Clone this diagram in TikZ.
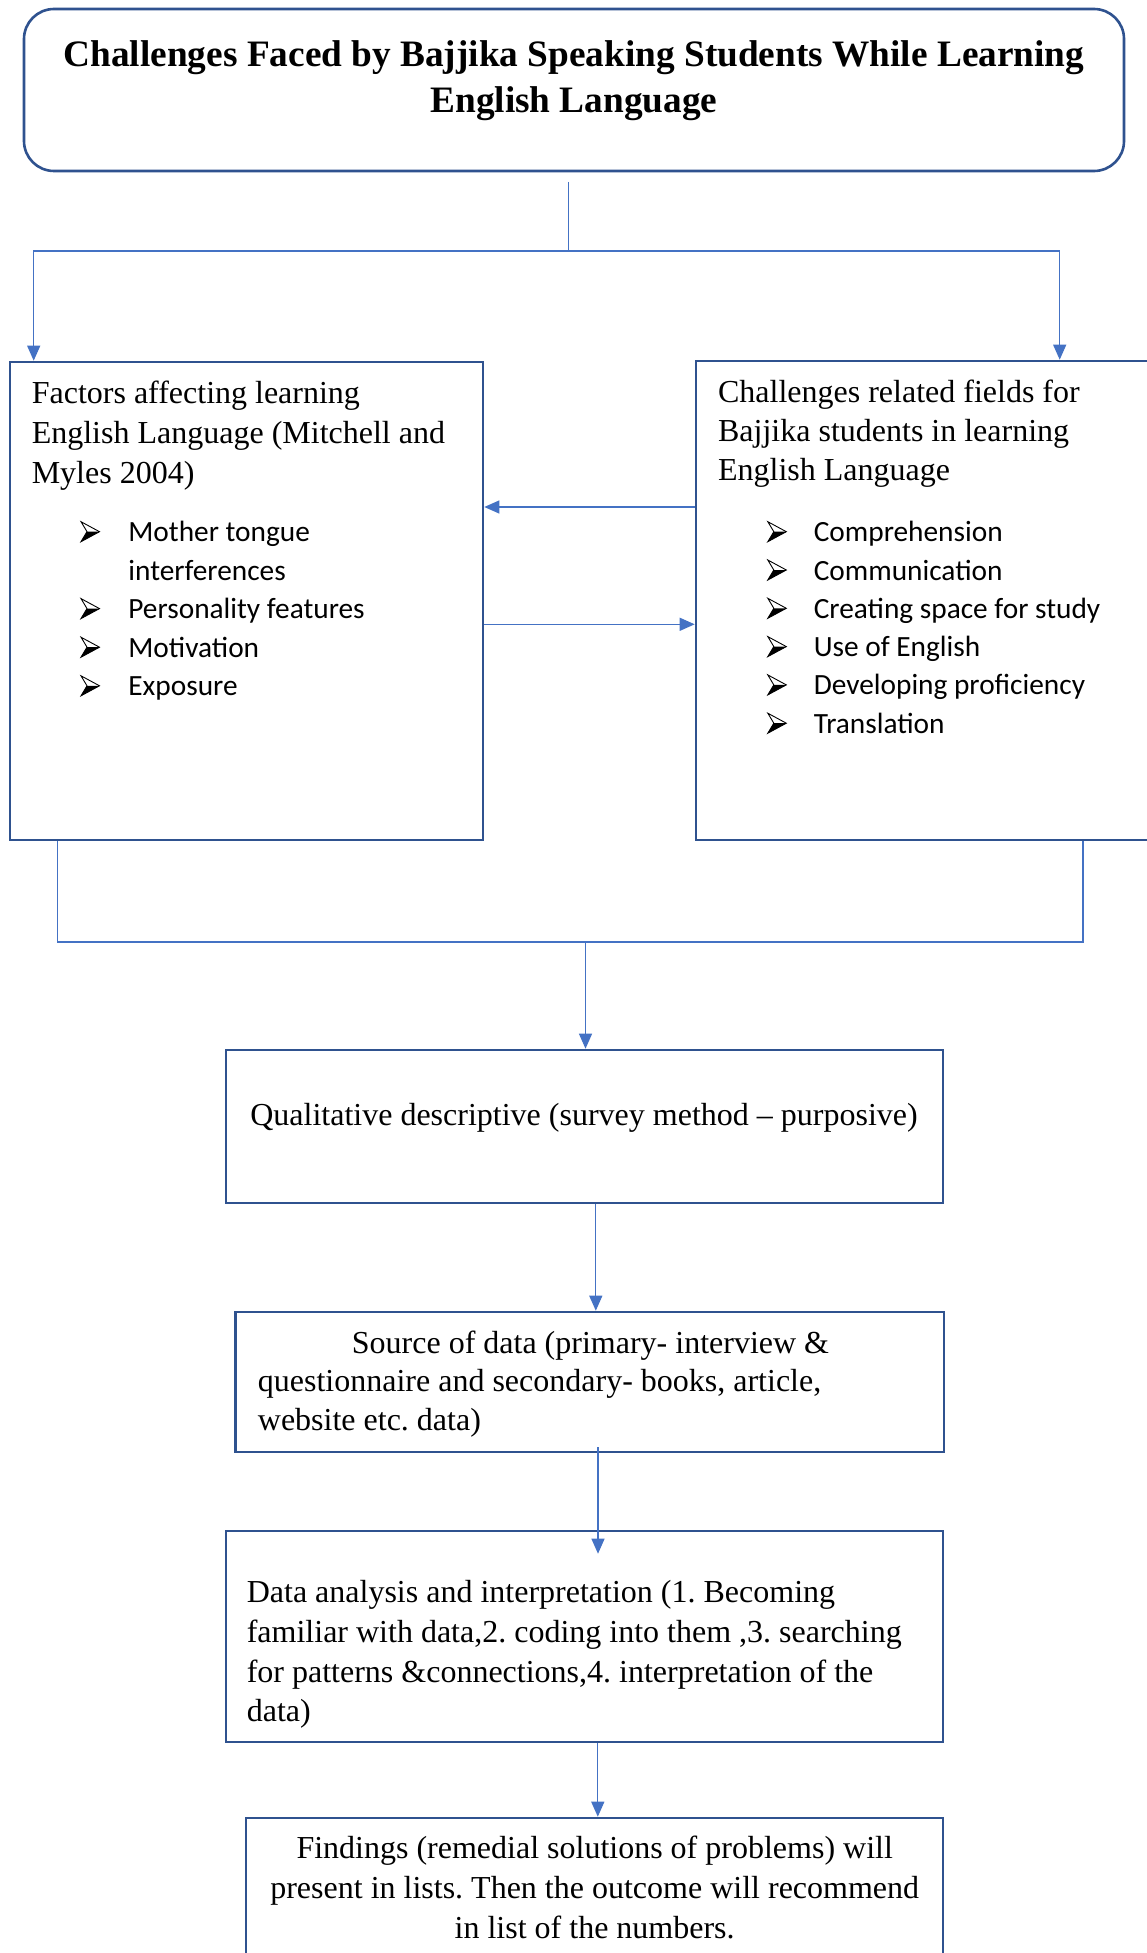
\documentclass[tikz,border=0pt]{standalone}
\usepackage{fontspec}
\setmainfont{Liberation Serif}
\newfontfamily\calfont{Carlito}
\usetikzlibrary{arrows.meta,fit,calc}
\definecolor{boxcol}{RGB}{47,82,143}
\definecolor{linecol}{RGB}{68,114,196}
\begin{document}
\frenchspacing
\begin{tikzpicture}[x=0.5pt,y=-0.5pt,
  box/.style={draw=boxcol,line width=1.3pt,inner sep=0pt},
  conn/.style={draw=linecol,line width=0.6pt},
  arr/.style={-{Triangle[length=7.5pt,width=6.5pt]}},
  body/.style={inner sep=0pt,align=left,font=\fontsize{16}{20}\selectfont},
  blist/.style={inner sep=0pt,align=left,font=\calfont\fontsize{14.67}{19.25}\selectfont},
  arrowbul/.pic={
    \fill[black] (0,0) -- (18.5,-10) -- (6,-10) -- cycle;
    \draw[black,line width=0.45pt,line join=miter] (0,-20) -- (18.5,-10) -- (0,0) -- (6,-10) -- cycle;
  }]
\path[fill=white] (0,0) rectangle (1146,1953);
\useasboundingbox (0,0) rectangle (1146,1953);

% boxes
\node[box,rounded corners=15pt,fit={(24,9) (1124,171)}] (title) {};
\node[box,fit={(10,362) (483,840)}] (left) {};
\node[box,fit={(696,361) (1175,840)}] (right) {};
\node[box,fit={(226,1050) (943,1203)}] (qual) {};
\node[box,fit={(235.5,1312) (944,1452)}] (src) {};
\node[box,fit={(226,1531) (943,1742)}] (data) {};
\node[box,fit={(246,1818) (943,1975)}] (find) {};

% texts (anchor = baseline of the last line)
\node[inner sep=0pt,align=center,anchor=base,font=\bfseries\fontsize{18.65}{23}\selectfont] (titletext) at (574,112.7)
  {Challenges Faced by Bajjika Speaking Students While Learning\\English Language};

\node[body,anchor=base west] (lefthead) at (31.4,483.3)
  {Factors affecting learning\\English Language (Mitchell and\\Myles 2004)};
\node[blist,anchor=base west] (leftlist) at (128,695.7)
  {Mother tongue\\interferences\\Personality features\\Motivation\\Exposure};
\foreach \yy in {541.7,618.6,657.2,695.8}
  \pic at (81,\yy) {arrowbul};

\node[body,anchor=base west,font=\fontsize{16}{19.5}\selectfont] (righthead) at (717.7,480.7)
  {Challenges related fields for\\Bajjika students in learning\\English Language};
\node[blist,anchor=base west,font=\calfont\fontsize{14.67}{19.16}\selectfont] (rightlist) at (813.4,733.3)
  {Comprehension\\Communication\\Creating space for study\\Use of English\\Developing proficiency\\Translation};
\foreach \yy in {541.7,580.0,618.3,656.6,694.9,733.2}
  \pic at (767.8,\yy) {arrowbul};

\node[body,align=center,anchor=base] (qualtext) at (584,1125)
  {Qualitative descriptive (survey method – purposive)};

\node[body,anchor=base west,font=\fontsize{16}{19.25}\selectfont] (srctext) at (257.5,1430)
  {\hspace*{47pt}Source of data (primary- interview \&\\questionnaire and secondary- books, article,\\website etc. data)};

\node[body,anchor=base west,font=\fontsize{16}{19.8}\selectfont] (datatext) at (246.4,1721.6)
  {Data analysis and interpretation (1. Becoming\\familiar with data,2. coding into them ,3. searching\\for patterns \&connections,4. interpretation of the\\data)};

\node[body,align=center,anchor=base,font=\fontsize{16}{19.85}\selectfont] (findtext) at (594.7,1938)
  {Findings (remedial solutions of problems) will\\present in lists. Then the outcome will recommend\\in list of the numbers.};

% helper coordinates
\coordinate (tstart) at (568.7,182);
\coordinate (split) at (568.7,251);
\coordinate (ya) at (0,507);
\coordinate (yb) at (0,624.3);
\coordinate (xl) at (57.7,0);
\coordinate (xr) at (1083,0);
\coordinate (merge) at (585.5,942);
\coordinate (xq) at (595.8,0);
\coordinate (xd) at (598,0);
\coordinate (xf) at (597.8,0);
\coordinate (s1) at ($(src.south -| xd)+(0,-6)$);
\coordinate (s2) at ($(data.north -| xd)+(0,24)$);

% connectors
\draw[conn] (tstart) -- (split);
\draw[conn,arr] (split) -| ([xshift=12.5pt]left.north west);
\draw[conn,arr] (split) -| ([xshift=182.5pt]right.north west);
\draw[conn,arr] (right.west |- ya) -- (left.east |- ya);
\draw[conn,arr] (left.east |- yb) -- (right.west |- yb);
\draw[conn] (left.south -| xl) |- (merge);
\draw[conn] (right.south -| xr) |- (merge);
\draw[conn,arr] (merge) -- (merge |- qual.north);
\draw[conn,arr] (qual.south -| xq) -- (src.north -| xq);
\draw[conn,arr] (s1) -- (s2);
\draw[conn,arr] (data.south -| xf) -- (find.north -| xf);
\end{tikzpicture}
\end{document}
